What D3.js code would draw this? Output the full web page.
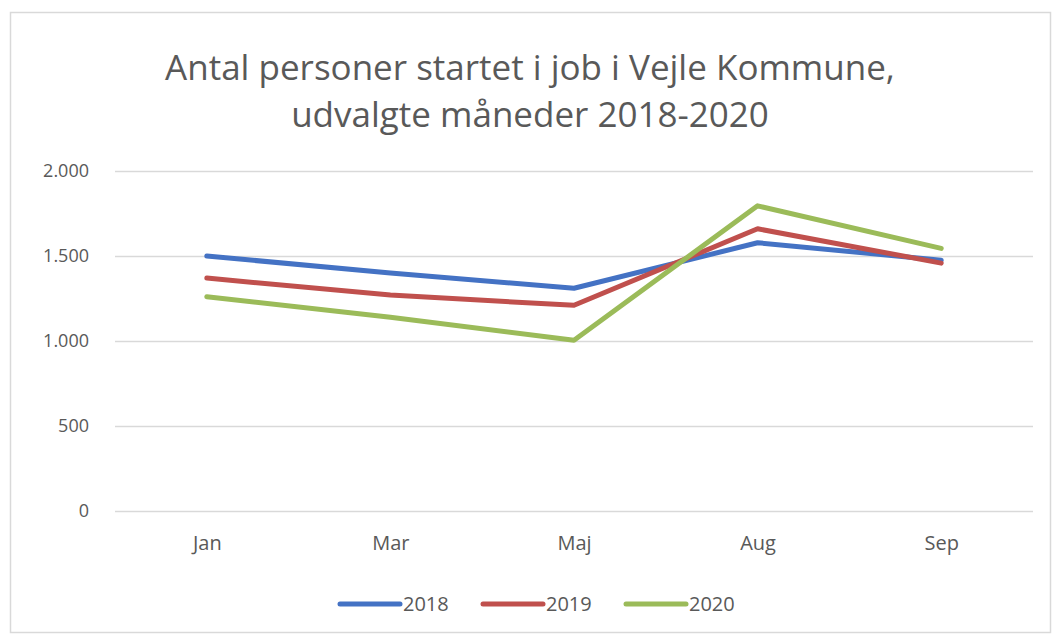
<!DOCTYPE html>
<html>
<head>
<meta charset="utf-8">
<script src="https://cdn.jsdelivr.net/npm/d3@7"></script>
<style>
  body { margin: 0; background: #fff; }
  text { font-family: "Open Sans", "Noto Sans", sans-serif; fill: #595959; }
</style>
</head>
<body>
<div id="chart1"></div>
<script>
const months = ["Jan", "Mar", "Maj", "Aug", "Sep"];
const years = ["2018", "2019", "2020"];
const values2018 = [1500, 1400, 1310, 1578, 1475];
const values2019 = [1370, 1270, 1210, 1660, 1458];
const values2020 = [1260, 1140, 1005, 1795, 1545];
const yTicks = [0, 500, 1000, 1500, 2000];
const colors = ["#4472C4", "#C0504D", "#9BBB59"];

const width = 1056;
const height = 641;
const margin = ({top: 171, right: 23, bottom: 130, left: 115});

const series = [values2018, values2019, values2020].map((v, i) => ({
  year: years[i],
  color: colors[i],
  points: v.map((d, j) => ({month: months[j], value: d}))
}));

const svg = d3.select("#chart1") // whole chart
  .append("svg")
  .attr("width", width)
  .attr("height", height);

// chart frame
svg.append("rect")
  .attr("x", 10.5).attr("y", 12.5)
  .attr("width", 1040).attr("height", 620)
  .attr("fill", "#fff")
  .attr("stroke", "#d9d9d9")
  .attr("stroke-width", 1.5);

const x = d3.scalePoint()
  .domain(months)
  .range([margin.left, width - margin.right])
  .padding(0.5);

const y = d3.scaleLinear()
  .domain([0, 2000])
  .range([height - margin.bottom, margin.top]);

// title
const title = svg.append("text")
  .attr("text-anchor", "middle")
  .attr("font-size", 35);
title.append("tspan").attr("x", 530).attr("y", 80).text("Antal personer startet i job i Vejle Kommune,");
title.append("tspan").attr("x", 530).attr("y", 127).text("udvalgte måneder 2018-2020");

// gridlines + y axis
const yAxis = svg.append("g")
  .attr("transform", `translate(${margin.left}, 0)`)
  .call(d3.axisLeft(y)
    .tickValues(yTicks)
    .tickSize(-(width - margin.left - margin.right))
    .tickPadding(26)
    .tickFormat(d => d3.format(",")(d).replace(",", ".")));
yAxis.select(".domain").remove();
yAxis.selectAll(".tick line").attr("stroke", "#d9d9d9").attr("stroke-width", 1.5);
yAxis.selectAll(".tick text").attr("font-size", 18).style("font-family", "\"Open Sans\", sans-serif").attr("fill", "#595959");

// x axis labels
const xAxis = svg.append("g")
  .attr("transform", `translate(0, ${height - margin.bottom})`)
  .call(d3.axisBottom(x).tickSize(0).tickPadding(25));
xAxis.select(".domain").remove();
xAxis.selectAll(".tick text").attr("font-size", 20).style("font-family", "\"Open Sans\", sans-serif").attr("fill", "#595959");

// lines
const line = d3.line()
  .x(d => x(d.month))
  .y(d => y(d.value));

svg.selectAll(".series")
  .data(series)
  .join("path")
  .attr("class", "series")
  .attr("fill", "none")
  .attr("stroke", d => d.color)
  .attr("stroke-width", 5)
  .attr("stroke-linejoin", "round")
  .attr("stroke-linecap", "round")
  .attr("d", d => line(d.points));

// legend
const legendX = [340, 483, 626];
const legend = svg.selectAll(".legend")
  .data(series)
  .join("g")
  .attr("class", "legend")
  .attr("transform", (d, i) => `translate(${legendX[i]}, 604)`);

legend.append("line")
  .attr("x1", 0).attr("x2", 60)
  .attr("stroke", d => d.color)
  .attr("stroke-width", 5)
  .attr("stroke-linecap", "round");

legend.append("text")
  .attr("x", 63)
  .attr("y", 7)
  .attr("font-size", 20)
  .text(d => d.year);
</script>
</body>
</html>
